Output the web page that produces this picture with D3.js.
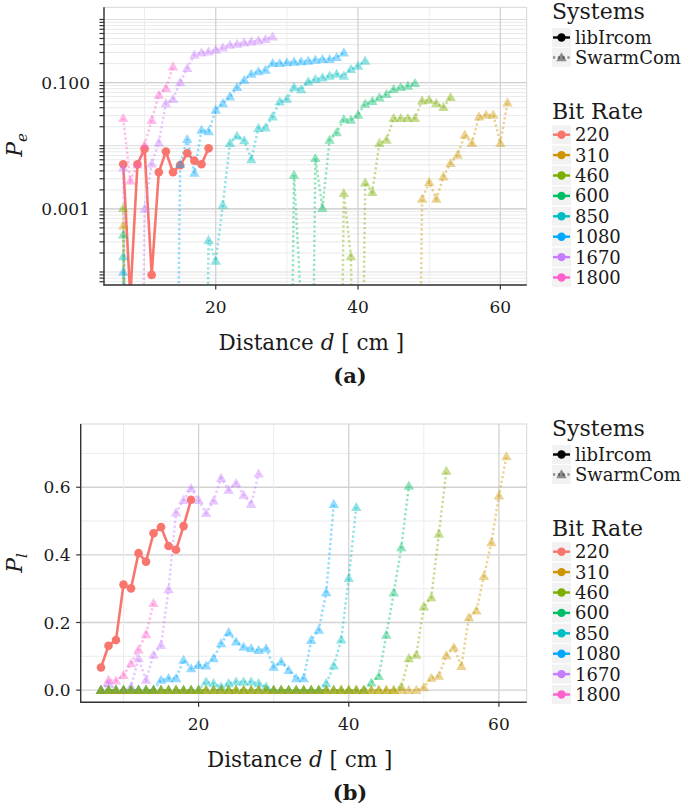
<!DOCTYPE html>
<html><head><meta charset="utf-8">
<script src="https://cdn.jsdelivr.net/npm/d3@7"></script>
<style>body{margin:0;background:#fff}svg{display:block}text{font-family:"DejaVu Serif",serif;fill:#1a1a1a}</style>
</head><body>
<svg id="c" width="685" height="809"></svg>
<script>
// ---------- data ----------
const distances = [7,8,9,10,11,12,13,14,15,16,17,18,19,20,21,22,23,24,25,26,27,28,29,30,31,32,33,34,35,36,37,38,39,40,41,42,43,44,45,46,47,48,49,50,51,52,53,54,55,56,57,58,59,60,61];
const systems = ["libIrcom","SwarmCom"];
const bitRates = ["220","310","460","600","850","1080","1670","1800"];
const rateColors = ["#F8766D","#CD9600","#7CAE00","#00BE67","#00BFC4","#00A9FF","#C77CFF","#FF61CC"];
const xTicks = [20,40,60];
const xMinor = [10,30,50];
const peTicks = [0.1,0.001];
const peTickLabels = ["0.100","0.001"];
const plTicks = [0,0.2,0.4,0.6];
const plTickLabels = ["0.0","0.2","0.4","0.6"];
const plMinor = [0.1,0.3,0.5,0.7];

// libIrcom 220 (d = 7..19)
const lib220Pe = [0.0051,0.00004,0.0051,0.0089,0.00009,0.0038,0.0081,0.0038,0.0049,0.0076,0.0058,0.0051,0.0091];
const lib220Pl = [0.067,0.131,0.148,0.312,0.301,0.405,0.380,0.464,0.482,0.426,0.415,0.485,0.563];
// SwarmCom (d = 7..)
const sw310Pe = [0.00054,0,0,0,0,0,0,0,0,0,0,0,0,0,0,0,0,0,0,0,0,0,0,0,0,0,0,0,0,0,0,0,0,0,0,0,0,0,0,0,0,0,0.00144,0.00265,0.00144,0.00325,0.00528,0.00716,0.0149,0.011,0.029,0.0308,0.0308,0.011,0.0483];
const sw310Pl = [0,0,0,0,0,0,0,0,0,0,0,0,0,0,0,0,0,0,0,0,0,0,0,0,0,0,0,0,0,0,0,0,0,0,0,0,0,0,0,0,0,0,0,0.008,0.036,0.042,0.103,0.126,0.071,0.215,0.235,0.337,0.437,0.575,0.691];
const sw460Pe = [0.00103,0,0,0,0,0,0,0,0,0,0,0,0,0,0,0,0,0,0,0,0,0,0,0,0,0,0,0,0,0,0,0.00177,0.000176,0,0.00261,0.00184,0.011,0.0124,0.0273,0.0273,0.0273,0.0273,0.052,0.053,0.047,0.041,0.0586];
const sw460Pl = [0,0,0,0,0,0,0,0,0,0,0,0,0,0,0,0,0,0,0,0,0,0,0,0,0,0,0,0,0,0,0,0,0,0,0,0,0,0,0,0,0.01,0.094,0.104,0.247,0.274,0.462,0.648];
const sw600Pe = [0.00039,0,0,0,0,0,0,0,0,0,0,0,0,0,0,0,0,0,0,0,0,0,0,0,0.00345,0.00003,0,0.00635,0.00103,0.0124,0.0162,0.0263,0.0257,0.0308,0.046,0.051,0.058,0.0655,0.0785,0.0845,0.0887,0.0977];
const sw600Pl = [0,0,0,0,0,0,0,0,0,0,0,0,0,0,0,0,0,0,0,0,0,0,0,0,0,0,0,0,0,0,0,0,0,0,0,0,0.022,0.041,0.163,0.288,0.422,0.604];
const sw850Pe = [0.000176,0,0,0,0,0,0,0,0,0,0,0,0.00032,0.00015,0.00116,0.011,0.0143,0.0121,0.0061,0.019,0.0194,0.029,0.05,0.055,0.0845,0.078,0.104,0.113,0.12,0.128,0.137,0.128,0.163,0.184,0.221];
const sw850Pl = [0,0,0,0,0,0,0,0,0,0,0,0,0,0,0.025,0.02,0.01,0.02,0.025,0.025,0.025,0.02,0.01,0,0,0,0,0,0,0,0.02,0.072,0.149,0.331,0.541];
const sw1080Pe = [0.0001,0,0,0,0,0,0,0,0.0051,0.0127,0.0037,0.0178,0.0168,0.037,0.047,0.060,0.0845,0.110,0.137,0.150,0.159,0.203,0.203,0.208,0.213,0.216,0.221,0.229,0.235,0.235,0.252,0.299];
const sw1080Pl = [0,0,0,0,0,0,0,0,0.03,0.035,0.035,0.089,0.064,0.074,0.072,0.094,0.138,0.171,0.143,0.128,0.123,0.118,0.123,0.069,0.084,0.059,0.035,0.035,0.148,0.178,0.289,0.55];
const sw1670Pe = [0.0045,0,0,0.001,0.0052,0.0112,0.047,0.0545,0.101,0.169,0.275,0.299,0.31,0.33,0.359,0.395,0.41,0.43,0.447,0.464,0.487,0.536];
const sw1670Pl = [0,0.02,0,0,0.01,0.094,0.03,0.104,0.133,0.298,0.525,0.562,0.597,0.562,0.523,0.56,0.627,0.592,0.612,0.577,0.55,0.64];
const sw1800Pe = [0.0273,0.0028,0.005,0.0103,0.0255,0.0638,0.0815,0.179];
const sw1800Pl = [0,0.03,0.028,0.044,0.079,0.12,0.165,0.257];

const series = [
  {sys:"libIrcom", rate:"220", pe:lib220Pe, pl:lib220Pl},
  {sys:"SwarmCom", rate:"310", pe:sw310Pe, pl:sw310Pl},
  {sys:"SwarmCom", rate:"460", pe:sw460Pe, pl:sw460Pl},
  {sys:"SwarmCom", rate:"600", pe:sw600Pe, pl:sw600Pl},
  {sys:"SwarmCom", rate:"850", pe:sw850Pe, pl:sw850Pl},
  {sys:"SwarmCom", rate:"1080", pe:sw1080Pe, pl:sw1080Pl},
  {sys:"SwarmCom", rate:"1670", pe:sw1670Pe, pl:sw1670Pl},
  {sys:"SwarmCom", rate:"1800", pe:sw1800Pe, pl:sw1800Pl}
];
// drawing order: libIrcom first, then SwarmCom from the highest bit rate down
const drawOrder = [series[0]].concat(series.slice(1).reverse());

// ---------- drawing ----------
const svg = d3.select("#c");
const color = d3.scaleOrdinal().domain(bitRates).range(rateColors);
const FLOOR = 1e-12;
const SW_ALPHA = 0.42;

function panel(cfg){
  const g = svg.append("g");
  const x = d3.scaleLinear().domain([4.3,63.7]).range([cfg.left,cfg.right]);
  const y = cfg.log
    ? d3.scaleLog().domain([Math.pow(10,-4.206),Math.pow(10,0.193)]).range([cfg.bottom,cfg.top])
    : d3.scaleLinear().domain([-0.036,0.787]).range([cfg.bottom,cfg.top]);
  const id = "clip"+cfg.key;
  svg.append("clipPath").attr("id",id).append("rect")
    .attr("x",cfg.left).attr("y",cfg.top).attr("width",cfg.right-cfg.left).attr("height",cfg.bottom-cfg.top);

  // grid
  const grid = g.append("g");
  if(cfg.log){
    const all = y.ticks();
    grid.selectAll("line.hm").data(all).join("line")
      .attr("x1",cfg.left).attr("x2",cfg.right)
      .attr("y1",d=>y(d)).attr("y2",d=>y(d))
      .attr("stroke",d=>{const l=Math.log10(d);return Math.abs(l-Math.round(l))<1e-6?"#dcdcdc":"#e9e9e9";})
      .attr("stroke-width",1);
    grid.selectAll("line.hM").data(peTicks).join("line")
      .attr("x1",cfg.left).attr("x2",cfg.right)
      .attr("y1",d=>y(d)).attr("y2",d=>y(d)).attr("stroke","#cfcfcf").attr("stroke-width",1.3);
  } else {
    grid.selectAll("line.hm").data(plMinor).join("line")
      .attr("x1",cfg.left).attr("x2",cfg.right)
      .attr("y1",d=>y(d)).attr("y2",d=>y(d)).attr("stroke","#ececec").attr("stroke-width",1);
    grid.selectAll("line.hM").data(plTicks).join("line")
      .attr("x1",cfg.left).attr("x2",cfg.right)
      .attr("y1",d=>y(d)).attr("y2",d=>y(d)).attr("stroke","#d2d2d2").attr("stroke-width",1.3);
  }
  grid.selectAll("line.vm").data(xMinor).join("line")
    .attr("y1",cfg.top).attr("y2",cfg.bottom)
    .attr("x1",d=>x(d)).attr("x2",d=>x(d)).attr("stroke","#ececec").attr("stroke-width",1);
  grid.selectAll("line.vM").data(xTicks).join("line")
    .attr("y1",cfg.top).attr("y2",cfg.bottom)
    .attr("x1",d=>x(d)).attr("x2",d=>x(d)).attr("stroke","#d2d2d2").attr("stroke-width",1.3);
  // border
  g.append("rect").attr("x",cfg.left).attr("y",cfg.top).attr("width",cfg.right-cfg.left).attr("height",cfg.bottom-cfg.top)
    .attr("fill","none").attr("stroke","#d6d6d6").attr("stroke-width",1);

  const val = s => cfg.log ? s.pe : s.pl;
  const pts = s => val(s).map((v,i)=>({d:distances[i], v:v}));
  const yv = v => cfg.log ? y(v>0?v:FLOOR) : y(v);
  const line = d3.line().x(p=>x(p.d)).y(p=>yv(p.v));

  const data = g.append("g").attr("clip-path",`url(#${id})`);
  // lines
  drawOrder.forEach(s=>{
    const p = data.append("path").attr("d",line(pts(s))).attr("fill","none")
      .attr("stroke",color(s.rate));
    if(s.sys==="libIrcom") p.attr("stroke-width",2.6);
    else p.attr("stroke-width",2.5).attr("stroke-dasharray","2.3,2.5").attr("stroke-opacity",SW_ALPHA);
  });
  // points
  const tri = d3.symbol().type(d3.symbolTriangle).size(48);
  drawOrder.forEach(s=>{
    const ps = pts(s).filter(p=>!(cfg.log && p.v<=0));
    if(s.sys==="libIrcom"){
      data.selectAll(null).data(ps).join("circle")
        .attr("cx",p=>x(p.d)).attr("cy",p=>yv(p.v)).attr("r",4.3).attr("fill",color(s.rate));
    } else {
      data.selectAll(null).data(ps).join("path").attr("d",tri)
        .attr("transform",p=>`translate(${x(p.d)},${yv(p.v)+0.8})`)
        .attr("fill",color(s.rate)).attr("fill-opacity",SW_ALPHA);
    }
  });

  // axes
  const ax = g.append("g");
  ax.append("line").attr("x1",cfg.left).attr("x2",cfg.left).attr("y1",cfg.top).attr("y2",cfg.bottom+0.5)
    .attr("stroke","#333").attr("stroke-width",1.4);
  ax.append("line").attr("x1",cfg.left-0.5).attr("x2",cfg.right).attr("y1",cfg.bottom).attr("y2",cfg.bottom)
    .attr("stroke","#333").attr("stroke-width",1.4);
  ax.selectAll("line.xt").data(xTicks).join("line")
    .attr("x1",d=>x(d)).attr("x2",d=>x(d)).attr("y1",cfg.bottom).attr("y2",cfg.bottom+4.5)
    .attr("stroke","#333").attr("stroke-width",1.2);
  ax.selectAll("text.xt").data(xTicks).join("text")
    .attr("x",d=>x(d)).attr("y",cfg.bottom+28).attr("text-anchor","middle")
    .attr("font-size",17).text(d=>d);
  const yt = cfg.log ? y.ticks() : plTicks;
  ax.selectAll("line.yt").data(yt).join("line")
    .attr("x1",cfg.left-4.5).attr("x2",cfg.left).attr("y1",d=>y(d)).attr("y2",d=>y(d))
    .attr("stroke","#333").attr("stroke-width",1.2);
  const ylabs = cfg.log ? peTicks : plTicks;
  const ytxt = cfg.log ? peTickLabels : plTickLabels;
  ax.selectAll("text.yt").data(ylabs).join("text")
    .attr("x",cfg.labelRight).attr("y",d=>y(d)).attr("dy","0.36em").attr("text-anchor","end")
    .attr("font-size",17).text((d,i)=>ytxt[i]);

  // axis titles
  const xt = g.append("text").attr("x",(cfg.left+cfg.right)/2-4).attr("y",cfg.bottom+65)
    .attr("text-anchor","middle").attr("font-size",21.5);
  xt.append("tspan").text("Distance ");
  xt.append("tspan").attr("font-style","italic").text("d");
  xt.append("tspan").text(" [ cm ]");
  const yti = g.append("text").attr("transform",`translate(22,${cfg.ymid}) rotate(-90)`)
    .attr("text-anchor","middle").attr("font-size",22);
  yti.append("tspan").attr("font-style","italic").text("P");
  yti.append("tspan").attr("font-style","italic").attr("font-size",15).attr("dy",5).text(cfg.sub);
  g.append("text").attr("x",350).attr("y",cfg.bottom+98).attr("text-anchor","middle")
    .attr("font-size",21).attr("font-weight","bold").text(cfg.caption);

  // legend
  const lg = g.append("g");
  const L = 552, off = cfg.legendOff;
  lg.append("text").attr("x",L).attr("y",off+19).attr("font-size",22).text("Systems");
  systems.forEach((sname,i)=>{
    const cy = off+37.5+i*20;
    lg.append("rect").attr("x",L).attr("y",cy-9.5).attr("width",19).attr("height",19).attr("fill","#f2f2f2");
    if(sname==="libIrcom"){
      lg.append("line").attr("x1",L+1).attr("x2",L+18).attr("y1",cy).attr("y2",cy).attr("stroke","#000").attr("stroke-width",2.4);
      lg.append("circle").attr("cx",L+9.5).attr("cy",cy).attr("r",4.2).attr("fill","#000");
    } else {
      lg.append("line").attr("x1",L+1).attr("x2",L+18).attr("y1",cy).attr("y2",cy).attr("stroke","#000")
        .attr("stroke-opacity",SW_ALPHA).attr("stroke-width",2.4).attr("stroke-dasharray","2.2,2.6");
      lg.append("path").attr("d",tri()).attr("transform",`translate(${L+9.5},${cy+0.8})`).attr("fill","#000").attr("fill-opacity",SW_ALPHA);
    }
    lg.append("text").attr("x",L+23).attr("y",cy+6.5).attr("font-size",18).text(sname);
  });
  lg.append("text").attr("x",L).attr("y",off+119).attr("font-size",22).text("Bit Rate");
  bitRates.forEach((r,i)=>{
    const cy = off+134.7+i*20.4;
    lg.append("rect").attr("x",L).attr("y",cy-9.5).attr("width",19).attr("height",19).attr("fill","#f2f2f2");
    lg.append("line").attr("x1",L+1).attr("x2",L+18).attr("y1",cy).attr("y2",cy).attr("stroke",color(r)).attr("stroke-width",2.4);
    lg.append("circle").attr("cx",L+9.5).attr("cy",cy).attr("r",4.2).attr("fill",color(r));
    lg.append("text").attr("x",L+23).attr("y",cy+6.5).attr("font-size",18).text(r);
  });
}

panel({key:"a", log:true, left:104, right:526.7, top:7.3, bottom:285, labelRight:90, ymid:145, sub:"e", caption:"(a)", legendOff:0});
panel({key:"b", log:false, left:80.7, right:526.7, top:424, bottom:702.3, labelRight:70.5, ymid:563, sub:"l", caption:"(b)", legendOff:417});
</script>
</body></html>
